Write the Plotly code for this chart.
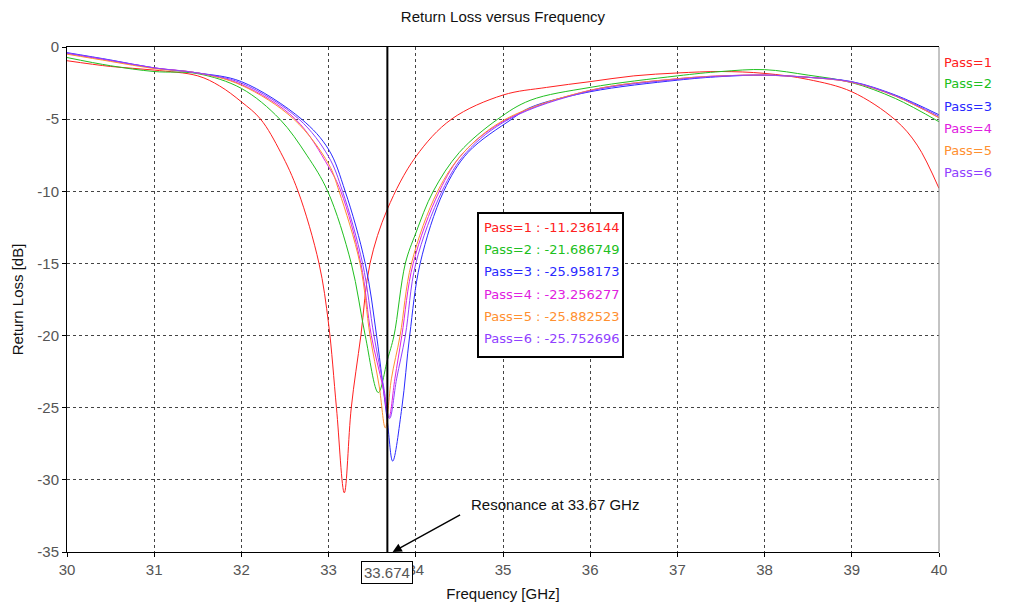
import plotly.graph_objects as go

# ---------------- data ----------------
pass_names = ["Pass=1", "Pass=2", "Pass=3", "Pass=4", "Pass=5", "Pass=6"]
marker_values = ["-11.236144", "-21.686749", "-25.958173", "-23.256277", "-25.882523", "-25.752696"]
marker_freq = 33.674

freq_p1 = [30, 30.5, 31, 31.5, 31.75, 32, 32.22, 32.45, 32.65, 32.89, 33.0, 33.09, 33.18, 33.26, 33.37, 33.475,
           33.674, 34, 34.41, 35, 35.5, 36, 36.5, 37, 37.5, 38, 38.5, 39, 39.5, 39.75, 40]
rl_p1 = [-0.95, -1.35, -1.6, -2.0, -2.7, -3.8, -5.0, -7.3, -10.0, -15.0, -19.2, -25.0, -30.9, -25.0, -20.0, -15.0,
         -11.24, -7.6, -5.0, -3.33, -2.8, -2.4, -2.0, -1.8, -1.7, -1.83, -2.25, -3.1, -5.06, -6.8, -9.8]

freq_p2 = [30, 30.5, 31, 31.5, 32, 32.44, 32.75, 32.99, 33.26, 33.42, 33.57, 33.674, 33.75, 33.88, 34,
           34.2, 34.5, 34.94, 35.31, 36, 37, 37.5, 38, 38.5, 39, 39.5, 40]
rl_p2 = [-0.73, -1.3, -1.7, -1.85, -2.87, -5.0, -7.5, -10.0, -15.0, -20.0, -23.95, -21.69, -20.0, -15.0, -12.9,
         -10.0, -7.3, -5.0, -3.7, -2.8, -2.0, -1.7, -1.57, -1.95, -2.47, -3.57, -5.18]

freq_p3 = [30, 30.5, 31, 31.5, 32, 32.69, 33, 33.19, 33.42, 33.55, 33.674, 33.735, 33.84, 33.93, 34.05,
           34.32, 34.6, 35.1, 35.31, 36, 37, 37.5, 38, 38.5, 39, 39.5, 40]
rl_p3 = [-0.39, -0.9, -1.45, -1.8, -2.4, -5.0, -7.1, -10.0, -15.0, -20.0, -25.96, -28.7, -25.0, -20.0, -15.0,
         -10.0, -7.3, -5.0, -4.2, -3.1, -2.3, -2.05, -1.95, -2.1, -2.4, -3.33, -4.7]

freq_p4 = [30, 30.5, 31, 31.5, 32, 32.62, 33, 33.14, 33.37, 33.49, 33.62, 33.69, 33.76, 33.84, 33.97,
           34.27, 34.55, 35.05, 36, 37, 37.5, 38, 38.5, 39, 39.5, 40]
rl_p4 = [-0.45, -0.95, -1.45, -1.8, -2.6, -5.0, -8.3, -10.0, -15.0, -20.0, -23.5, -25.7, -23.0, -20.0, -15.0,
         -10.0, -7.3, -5.0, -3.0, -2.2, -2.0, -1.95, -2.1, -2.45, -3.4, -4.9]

freq_p5 = [30, 30.5, 31, 31.5, 32, 32.6, 33, 33.12, 33.36, 33.475, 33.58, 33.65, 33.72, 33.82, 33.95,
           34.25, 34.55, 35.03, 36, 37, 37.5, 38, 38.5, 39, 39.5, 40]
rl_p5 = [-0.5, -1.0, -1.5, -1.8, -2.65, -5.0, -8.1, -10.0, -15.0, -20.0, -23.5, -26.4, -23.0, -20.0, -15.0,
         -10.0, -7.3, -5.0, -3.0, -2.2, -2.0, -1.95, -2.1, -2.45, -3.4, -4.9]

freq_p6 = [30, 30.5, 31, 31.5, 32, 32.66, 33, 33.16, 33.39, 33.52, 33.63, 33.7, 33.78, 33.88, 34.0,
           34.3, 34.58, 35.07, 36, 37, 37.5, 38, 38.5, 39, 39.5, 40]
rl_p6 = [-0.42, -0.92, -1.45, -1.8, -2.5, -5.0, -7.6, -10.0, -15.0, -20.0, -23.5, -25.75, -23.0, -20.0, -15.0,
         -10.0, -7.3, -5.0, -3.05, -2.25, -2.02, -1.95, -2.1, -2.42, -3.37, -4.8]

x_ticks = list(range(30, 41))
y_ticks = [0, -5, -10, -15, -20, -25, -30, -35]

freqs = [freq_p1, freq_p2, freq_p3, freq_p4, freq_p5, freq_p6]
rls = [rl_p1, rl_p2, rl_p3, rl_p4, rl_p5, rl_p6]
colors = ["#ff2020", "#20c020", "#2a2aff", "#e020e0", "#ff9030", "#9040ff"]

# ---------------- figure ----------------
W, H = 1013, 607
L, R, T, B = 67, 74, 47, 55
PW, PH = W - L - R, H - T - B


def px_x(px):
    return (px - L) / PW


def px_y(py):
    return (H - B - py) / PH


fig = go.Figure()
for name, f, v, c in zip(pass_names, freqs, rls, colors):
    fig.add_trace(go.Scatter(x=f, y=v, mode="lines", name=name,
                             line=dict(color=c, width=1, shape="spline", smoothing=1.0)))

arial = "Liberation Sans, Arial, sans-serif"
tick_font = dict(family=arial, size=15, color="#555555")
fig.update_layout(
    width=W, height=H,
    margin=dict(l=L, r=R, t=T, b=B, autoexpand=False),
    paper_bgcolor="white", plot_bgcolor="white",
    showlegend=False,
    title=dict(text="Return Loss versus Frequency", x=(L + PW / 2) / W, xanchor="center",
               y=1 - 17 / H, yanchor="middle",
               font=dict(family=arial, size=15, color="#111111")),
)
fig.update_xaxes(range=[30, 40], tickvals=x_ticks, ticktext=[str(t) for t in x_ticks],
                 showline=True, linecolor="black", linewidth=1, mirror=True, automargin=False,
                 ticks="outside", ticklen=4, tickcolor="black",
                 showgrid=True, gridcolor="#444444", gridwidth=1, griddash="3px,3px",
                 zeroline=False, tickfont=tick_font,
                 title=dict(text="Frequency [GHz]", standoff=11,
                            font=dict(family=arial, size=15, color="#111111")))
fig.update_yaxes(range=[-35, 0], tickvals=y_ticks, ticktext=[str(t) for t in y_ticks],
                 showline=True, linecolor="black", linewidth=1, automargin=False,
                 ticks="outside", ticklen=4, tickcolor="black",
                 showgrid=True, gridcolor="#444444", gridwidth=1, griddash="3px,3px",
                 zeroline=False, tickfont=tick_font,
                 title=dict(text="Return Loss [dB]", standoff=10,
                            font=dict(family=arial, size=15, color="#111111")))

# right frame (grey)
fig.add_shape(type="line", xref="paper", yref="paper", x0=1, x1=1, y0=0, y1=1,
              line=dict(color="#888888", width=1))

# marker line at resonance
fig.add_shape(type="line", xref="x", yref="paper", x0=marker_freq, x1=marker_freq, y0=0, y1=1,
              line=dict(color="black", width=2))

txt_font = "DejaVu Sans, Verdana, sans-serif"
# legend (right side text)
for i, (name, c) in enumerate(zip(pass_names, colors)):
    fig.add_annotation(xref="paper", yref="paper", x=px_x(942), y=px_y(62 + 22 * i),
                       xanchor="left", yanchor="middle", showarrow=False,
                       text=name, font=dict(family=txt_font, size=13, color=c))

# marker value box
fig.add_shape(type="rect", xref="paper", yref="paper",
              x0=px_x(478), x1=px_x(623), y0=px_y(357), y1=px_y(213),
              line=dict(color="black", width=2), fillcolor="white", layer="above")
for i, (name, val, c) in enumerate(zip(pass_names, marker_values, colors)):
    fig.add_annotation(xref="paper", yref="paper", x=px_x(482), y=px_y(227.7 + 22.1 * i),
                       xanchor="left", yanchor="middle", showarrow=False,
                       text=f"{name} : {val}", font=dict(family=txt_font, size=13, color=c))

# resonance annotation with arrow
fig.add_annotation(x=marker_freq + 0.06, y=-35, xref="x", yref="y", text="",
                   showarrow=True, arrowhead=2, arrowsize=1.3, arrowwidth=1.4, arrowcolor="black",
                   ax=69, ay=-38)
fig.add_annotation(xref="paper", yref="paper", x=px_x(469), y=px_y(504), xanchor="left", yanchor="middle",
                   showarrow=False, text="Resonance at 33.67 GHz",
                   font=dict(family=arial, size=15, color="#111111"))

# marker frequency box on x axis (it partly covers the "34" tick label, as in the reference)
fig.add_annotation(xref="x", yref="paper", x=marker_freq, y=px_y(572.5), xanchor="center", yanchor="middle",
                   showarrow=False, text=f"{marker_freq:.3f}", bgcolor="white", bordercolor="black",
                   borderwidth=1, borderpad=2,
                   font=dict(family=arial, size=15, color="#555555"))

fig.write_html("out.html")
